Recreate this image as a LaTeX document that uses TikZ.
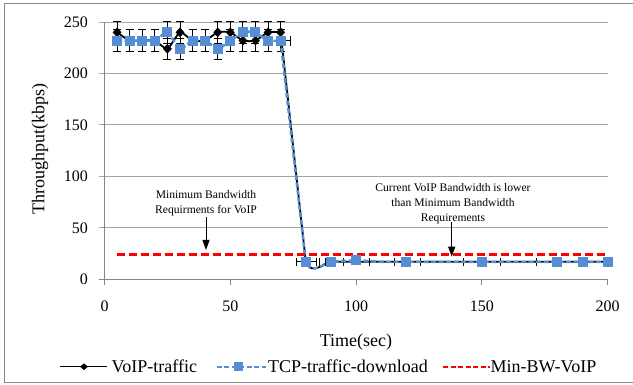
\documentclass[tikz,border=0pt]{standalone}
\usepackage{fontspec}
\setmainfont{Liberation Serif}
\usetikzlibrary{arrows.meta,shapes.geometric}
\definecolor{tcpblue}{RGB}{85,142,213}
\definecolor{gridgray}{RGB}{165,165,165}
\definecolor{axisgray}{RGB}{134,134,134}
\begin{document}
\begin{tikzpicture}[x=1pt,y=1pt,
  gridline/.style={gridgray,line width=0.9pt},
  axisline/.style={axisgray,line width=0.9pt},
  ticklbl/.style={font=\fontsize{16}{18}\selectfont,inner sep=0pt},
  titlelbl/.style={font=\fontsize{18}{20}\selectfont,inner sep=0pt},
  annot/.style={font=\fontsize{11.6}{15}\selectfont,align=center,inner sep=1pt},
  legtext/.style={font=\fontsize{18}{20}\selectfont,inner sep=0pt,anchor=base west},
  errbar/.style={black,line width=0.8pt},
  voipline/.style={black,line width=1.8pt},
  tcpline/.style={tcpblue,line width=2.6pt,dash pattern=on 5pt off 2.5pt},
  minbw/.style={red,line width=2.4pt,dash pattern=on 8pt off 4pt},
  dmark/.style={diamond,fill=black,inner sep=0pt,minimum width=9pt,minimum height=10pt},
  smark/.style={rectangle,fill=tcpblue,inner sep=0pt,minimum size=10pt},
  annarrow/.style={black,line width=1pt,-{Triangle[length=10pt,width=7pt]}}]
\useasboundingbox (0,0) rectangle (633,-385);
\fill[white] (0,0) rectangle (633,-385);
\draw[axisgray,line width=0.9pt] (634,-3) -- (4,-3) -- (4,-382) -- (634,-382);

\begin{scope}[shift={(104.5pt,-279.3pt)},x=2.516pt,y=1.029pt]
  % grid and axes
  \foreach \v in {50,100,150,200,250}
    \draw[gridline] ([xshift=-6pt]0,\v) -- (200,\v);
  \draw[axisline] ([xshift=-6pt]0,0) -- (200,0);
  \draw[axisline] (0,0) -- (0,250);
  \foreach \t in {0,50,100,150,200}
    \draw[axisline] (\t,0) -- ([yshift=-6pt]\t,0);
  \foreach \v in {0,50,100,150,200,250}
    \node[ticklbl,anchor=east] (yl\v) at ([xshift=-16.5pt]0,\v) {\v};
  \foreach \t in {0,50,100,150,200}
    \node[ticklbl] (xl\t) at ([yshift=-27.4pt]\t,0) {\t};

  % vertical error bars (top region)
  \foreach \t/\v in {5/240,10/232,15/232,20/232,25/224,30/240,35/232,40/232,45/240,50/240,55/232,60/232,65/240,70/240,
                     5/232,10/232,15/232,20/232,25/240,30/224,35/232,40/232,45/224,50/232,55/240,60/240,65/232,70/232}{
    \draw[errbar] (\t,\v-10.5) -- (\t,\v+10.5);
    \draw[errbar] ([xshift=-4pt]\t,\v-10.5) -- ([xshift=4pt]\t,\v-10.5);
    \draw[errbar] ([xshift=-4pt]\t,\v+10.5) -- ([xshift=4pt]\t,\v+10.5);
  }
  \draw[errbar] (70,232) -- (74,232);
  \draw[errbar] ([yshift=-5pt]74,232) -- ([yshift=5pt]74,232);
  % horizontal error bars (low region)
  \draw[errbar] (76.4,17) -- (84.3,17);
  \foreach \t in {76.4,84.3,85.6,87.9,94.9,105.3,115.2,125.5,142.6,157.2,171.5}
    \draw[errbar] ([yshift=-4pt]\t,17) -- ([yshift=4pt]\t,17);

  % series lines
  \draw[voipline] plot[smooth,tension=0.35] coordinates {(5,240) (10,232) (15,232) (20,232) (25,224) (30,240) (35,232) (40,232) (45,240) (50,240) (55,232) (60,232) (65,240) (70,240)}
     -- (80,17) .. controls (81.5,7) and (85,10) .. (89,17) -- (200,17);
  \draw[tcpline] plot[smooth,tension=0.35] coordinates {(5,232) (10,232) (15,232) (20,232) (25,240) (30,224) (35,232) (40,232) (45,224) (50,232) (55,240) (60,240) (65,232) (70,232)}
     -- (80,17) .. controls (81.5,7) and (85,10) .. (89,17) -- (100,18.5) -- (110,17) -- (200,17);

  % minimum bandwidth line
  \draw[minbw] (5,24) -- (200,24);

  % markers
  \foreach \t/\v [count=\i] in {5/240,10/232,15/232,20/232,25/224,30/240,35/232,40/232,45/240,50/240,55/232,60/232,65/240,70/240}
    \node[dmark] (d\i) at (\t,\v) {};
  \foreach \t/\v [count=\i] in {5/232,10/232,15/232,20/232,25/240,30/224,35/232,40/232,45/224,50/232,55/240,60/240,65/232,70/232,
                                80/17,90/17,100/18.5,120/17,150/17,180/17,190/17,200/17}
    \node[smark] (s\i) at (\t,\v) {};
\end{scope}

% axis titles
\node[titlelbl,rotate=90] (ytitle) at (40,-149) {Throughput(kbps)};
\node[titlelbl] (xtitle) at (356,-341.7) {Time(sec)};

% annotations
\node[annot] (ann1) at (206,-203) {Minimum Bandwidth\\Requirments for VoIP};
\coordinate (tip1) at (206,-250);
\draw[annarrow] (206,-216.7) -- (tip1);
\node[annot] (ann2) at (453,-203.5) {Current VoIP Bandwidth is lower\\than Minimum Bandwidth\\Requirements};
\coordinate (tip2) at (451.7,-256.7);
\draw[annarrow] (451.7,-222) -- (tip2);

% legend
\draw[voipline,line width=1.6pt] (60,-366.7) -- (107,-366.7);
\node[dmark,minimum width=8pt,minimum height=7pt] (legd) at (84,-366.7) {};
\node[legtext] (legv) at (111.5,-372.7) {VoIP-traffic};
\draw[tcpblue,line width=1.8pt,dash pattern=on 5pt off 2.5pt] (216.7,-366.7) -- (266,-366.7);
\node[smark,minimum size=9pt] (legs) at (238,-366.7) {};
\node[legtext] (legt) at (268,-372.7) {TCP-traffic-download};
\draw[red,line width=1.8pt,dash pattern=on 5pt off 2.5pt] (443,-366.7) -- (490,-366.7);
\node[legtext] (legm) at (490.5,-372.7) {Min-BW-VoIP};
\end{tikzpicture}
\end{document}
